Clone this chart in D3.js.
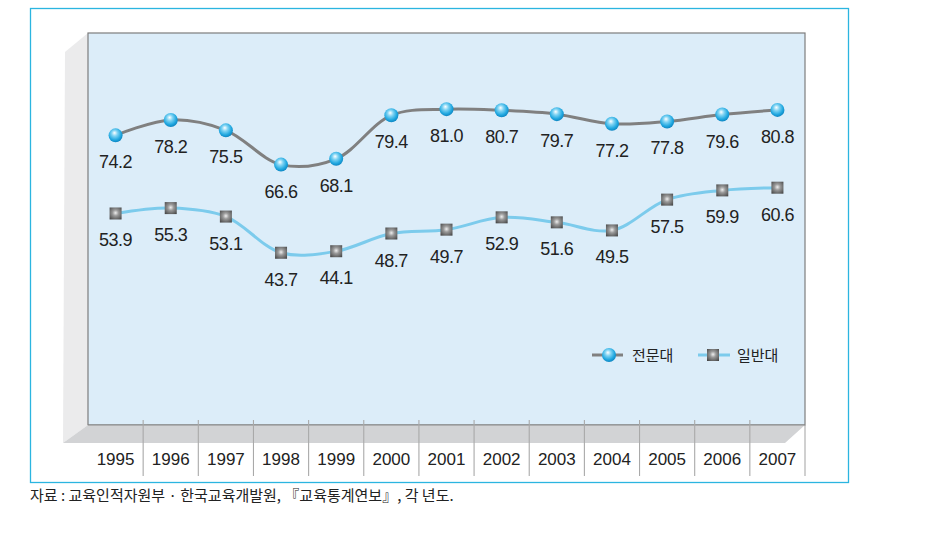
<!DOCTYPE html>
<html><head><meta charset="utf-8">
<script src="https://cdn.jsdelivr.net/npm/d3@7"></script>
<style>
body{margin:0;background:#fff;}
svg{display:block;}
.num{font-family:"Liberation Sans Narrow","Liberation Sans",Arial,sans-serif;fill:#222;}
.kr{font-family:"Noto Sans CJK KR","Noto Sans",sans-serif;fill:#222;}
</style></head>
<body>
<svg id="chart" width="926" height="536"></svg>
<script>
const years = ['1995','1996','1997','1998','1999','2000','2001','2002','2003','2004','2005','2006','2007'];
const juniorCollege = [74.2,78.2,75.5,66.6,68.1,79.4,81.0,80.7,79.7,77.2,77.8,79.6,80.8];
const university = [53.9,55.3,53.1,43.7,44.1,48.7,49.7,52.9,51.6,49.5,57.5,59.9,60.6];
const seriesNames = ['전문대','일반대'];
const sourceText = '자료 : 교육인적자원부 · 한국교육개발원, 『교육통계연보』, 각 년도.';

const svg = d3.select('#chart');
const defs = svg.append('defs');

const cg = defs.append('radialGradient').attr('id','ballGrad').attr('cx','45%').attr('cy','40%').attr('r','60%').attr('fx','42%').attr('fy','32%');
cg.append('stop').attr('offset','0%').attr('stop-color','#ffffff');
cg.append('stop').attr('offset','35%').attr('stop-color','#7fd3f3');
cg.append('stop').attr('offset','75%').attr('stop-color','#21a8e0');
cg.append('stop').attr('offset','100%').attr('stop-color','#0e86c2');
const sg = defs.append('radialGradient').attr('id','sqGrad').attr('cx','50%').attr('cy','45%').attr('r','70%');
sg.append('stop').attr('offset','0%').attr('stop-color','#eeeeee');
sg.append('stop').attr('offset','35%').attr('stop-color','#9a9a9a');
sg.append('stop').attr('offset','100%').attr('stop-color','#444444');

const L = 88, R = 805, T = 33, B = 425, floorDepth = 18;

svg.append('rect').attr('x',30.5).attr('y',8.5).attr('width',818).attr('height',474)
  .attr('fill','none').attr('stroke','#2bb5e0').attr('stroke-width',1.3);

svg.append('polygon')
  .attr('points',`${L},${T} ${L-23},${T+19} ${L-25},${B+floorDepth} ${L},${B}`)
  .attr('fill','#ebebec');
svg.append('rect').attr('x',L).attr('y',T).attr('width',R-L).attr('height',B-T)
  .attr('fill','#dcedf9').attr('stroke','#7d7d7d').attr('stroke-width',1.2);
svg.append('polygon')
  .attr('points',`${L},${B} ${R},${B} ${R-20},${B+floorDepth} ${L-25},${B+floorDepth}`)
  .attr('fill','#d2d3d5');
svg.append('line').attr('x1',L).attr('x2',R).attr('y1',B).attr('y2',B).attr('stroke','#8a8a8a').attr('stroke-width',1.2);

const x = d3.scaleBand().domain(years).range([L,R]);
const y = d3.scaleLinear().domain([0,100]).range([421,36]);
const cx = d => x(d) + x.bandwidth()/2;

svg.append('g').selectAll('line').data(years).join('line')
  .attr('x1',d=>x(d)+x.bandwidth()).attr('x2',d=>x(d)+x.bandwidth())
  .attr('y1',d=>d===years[years.length-1]?B:420).attr('y2',476)
  .attr('stroke','#a9a9a9').attr('stroke-width',1.1);

svg.append('g').selectAll('text').data(years).join('text')
  .attr('class','num').attr('x',d=>cx(d)).attr('y',465)
  .attr('text-anchor','middle').attr('font-size',17).text(d=>d);

const line = d3.line().x(d=>cx(d.year)).y(d=>y(d.v)).curve(d3.curveCatmullRom.alpha(0.5));
const s1 = years.map((yr,i)=>({year:yr,v:juniorCollege[i]}));
const s2 = years.map((yr,i)=>({year:yr,v:university[i]}));

svg.append('path').datum(s1).attr('d',line).attr('fill','none').attr('stroke','#808080').attr('stroke-width',3);
svg.append('path').datum(s2).attr('d',line).attr('fill','none').attr('stroke','#7ccbec').attr('stroke-width',3);

function ball(g, px, py){
  g.append('circle').attr('cx',px).attr('cy',py).attr('r',7).attr('fill','url(#ballGrad)');
}
function square(g, px, py){
  g.append('rect').attr('x',px-6).attr('y',py-6).attr('width',12).attr('height',12).attr('fill','url(#sqGrad)');
}
const m1 = svg.append('g');
s1.forEach(d=>ball(m1,cx(d.year),y(d.v)));
const m2 = svg.append('g');
s2.forEach(d=>square(m2,cx(d.year),y(d.v)));

[s1,s2].forEach(s=>{
  svg.append('g').selectAll('text').data(s).join('text')
    .attr('class','num').attr('x',d=>cx(d.year)).attr('y',d=>y(d.v)+33)
    .attr('text-anchor','middle').attr('font-size',18).attr('letter-spacing',-0.5)
    .text(d=>d.v.toFixed(1));
});

const lg = svg.append('g');
lg.append('line').attr('x1',592).attr('x2',623).attr('y1',355).attr('y2',355).attr('stroke','#808080').attr('stroke-width',3);
ball(lg,609,355);
lg.append('text').attr('class','kr').attr('x',632).attr('y',361).attr('font-size',15).text(seriesNames[0]);
lg.append('line').attr('x1',698).attr('x2',730).attr('y1',355).attr('y2',355).attr('stroke','#7ccbec').attr('stroke-width',3);
square(lg,713,355);
lg.append('text').attr('class','kr').attr('x',737).attr('y',361).attr('font-size',15).text(seriesNames[1]);

svg.append('text').attr('class','kr').attr('x',30).attr('y',501).attr('font-size',15).attr('fill','#333').text(sourceText);
</script>
</body></html>
